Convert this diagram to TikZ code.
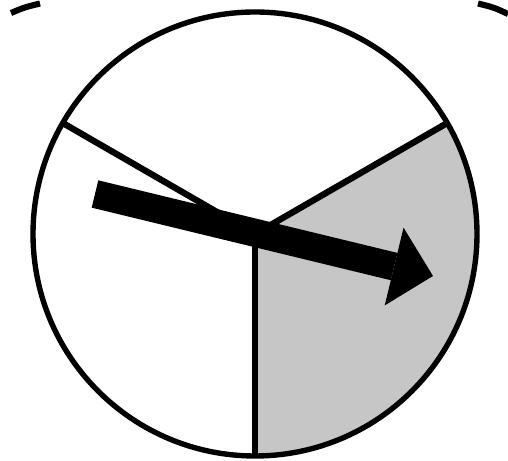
\documentclass[tikz,border=0pt]{standalone}
\usetikzlibrary{arrows.meta,calc}
\definecolor{SectorGray}{HTML}{C6C6C6}
\begin{document}
\begin{tikzpicture}[
  x=0.03cm, y=0.03cm,
  rim/.style={draw=black, line width=4.6pt},
  spoke/.style={draw=black, line width=5.4pt},
  pointer/.style={line width=24pt, -{Triangle[length=1.2cm, width=2.4cm, line width=0pt]}}
]
\useasboundingbox (0,0) rectangle (508,461);
\coordinate (hub) at (255,227);
\coordinate (left end) at ($(hub)+(150:222)$);
\coordinate (right end) at ($(hub)+(30:222)$);
\coordinate (bottom end) at ($(hub)+(270:222)$);
% shaded sector
\fill[SectorGray] (hub) -- (bottom end) arc[start angle=-90, end angle=30, radius=222] -- cycle;
\draw[spoke] (hub) -- (left end);
\draw[spoke] (hub) -- (right end);
\draw[spoke] (hub) -- (bottom end);
\draw[rim] (hub) circle [radius=222];
% edge of the next picture
\coordinate (corner a) at (11,448);
\coordinate (corner b) at (40,457.5);
\coordinate (corner c) at (478,457.5);
\coordinate (corner d) at (508,447);
\draw[rim, line width=5.2pt] (corner a) .. controls (24,453.5) .. (corner b);
\draw[rim, line width=5.2pt] (corner c) .. controls (494,453.5) .. (corner d);
\coordinate (tail) at (95,267);
\coordinate (tip) at (433,185);
\draw[pointer] (tail) -- (tip);
\end{tikzpicture}
\end{document}
